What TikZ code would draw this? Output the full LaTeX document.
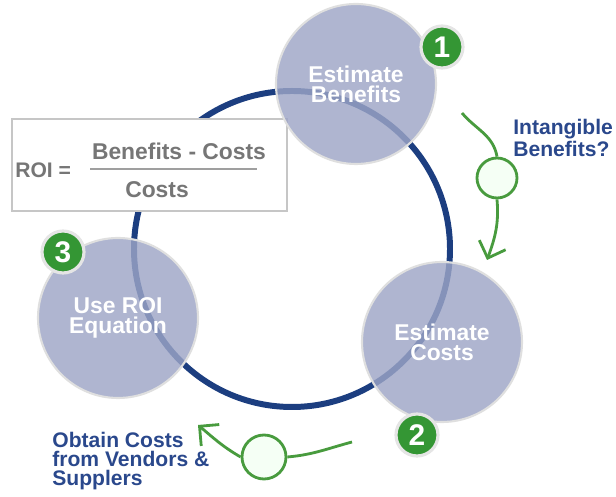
\documentclass[tikz,border=0pt]{standalone}
\usepackage{fontspec}
\setmainfont{Liberation Sans}
\usetikzlibrary{arrows.meta}
\definecolor{stepcolor}{RGB}{157,165,198}
\definecolor{ringcolor}{RGB}{28,62,128}
\definecolor{badgecolor}{RGB}{52,150,52}
\definecolor{notecolor}{RGB}{42,72,140}
\definecolor{pathcolor}{RGB}{72,155,62}
\definecolor{formulacolor}{RGB}{118,118,118}

\begin{document}
\begin{tikzpicture}[
    stepcircle/.style={circle, fill=stepcolor, fill opacity=0.82, text opacity=1, draw=gray!25, line width=1.2pt, minimum size=3.2cm, inner sep=0pt, text=white, font=\fontsize{13}{11.5}\selectfont\bfseries, align=center},
    badge/.style={circle, fill=badgecolor, draw=gray!20, line width=1.8pt, minimum size=0.84cm, inner sep=0pt, text=white, font=\fontsize{17}{17}\selectfont\bfseries},
    note/.style={text=notecolor, font=\fontsize{12}{10.8}\selectfont\bfseries, align=left, inner sep=0pt},
    loop/.style={circle, draw=pathcolor, line width=1.6pt, fill=green!4!white, minimum size=0.8cm, inner sep=0pt},
    hint/.style={draw=pathcolor, line width=1.6pt},
    formula/.style={text=formulacolor, font=\fontsize{13}{13}\selectfont\bfseries, inner sep=0pt}
]
    \useasboundingbox (0,0) rectangle (12.32,9.94);

    % Cycle ring
    \draw[ringcolor, line width=3.4pt] (5.84,4.96) circle (3.16);

    % ROI formula
    \node[draw=gray!45, line width=1pt, fill=white, minimum width=5.5cm, minimum height=1.84cm, inner sep=0pt] (roibox) at (2.99,6.64) {};
    \node[formula, font=\fontsize{12}{12}\selectfont\bfseries, anchor=west] (roi) at (0.30,6.54) {ROI =};
    \node[formula] (gain) at (3.58,6.92) {Benefits - Costs};
    \draw[formulacolor!70, line width=0.6pt] (1.80,6.56) -- (5.14,6.56);
    \node[formula] (cost) at (3.14,6.14) {Costs};

    % Steps
    \node[stepcircle] (benefits) at (7.12,8.26) {Estimate\\Benefits};
    \node[stepcircle] (costs) at (8.84,3.10) {Estimate\\Costs};
    \node[stepcircle] (equation) at (2.36,3.58) {Use ROI\\Equation};

    % Step numbers
    \node[badge] (badgeOne) at (8.84,9.00) {1};
    \node[badge] (badgeTwo) at (8.34,1.24) {2};
    \node[badge] (badgeThree) at (1.26,4.90) {3};

    % Intangible benefits
    \coordinate (intStart) at (9.24,7.68);
    \node[loop] (intLoop) at (9.94,6.38) {};
    \coordinate (intTip) at (9.74,4.74);
    \draw[hint] (intStart) to[out=-50, in=100] (intLoop.north);
    \draw[hint, -{Straight Barb[length=2.8mm, width=5.6mm]}] (intLoop.south) to[out=-85, in=70] (intTip);
    \node[note, anchor=north west] (intNote) at (10.26,7.56) {Intangible\\Benefits?};

    % Vendor costs
    \coordinate (obtStart) at (7.04,1.10);
    \node[loop, minimum size=0.88cm] (obtLoop) at (5.28,0.80) {};
    \coordinate (obtTip) at (3.96,1.44);
    \draw[hint] (obtStart) to[out=195, in=5] (obtLoop.east);
    \draw[hint, -{Straight Barb[length=2.8mm, width=5.6mm]}] (obtLoop.west) to[out=150, in=-40] (obtTip);
    \node[note, anchor=north west] (obtNote) at (1.04,1.30) {Obtain Costs\\from Vendors \&\\Supplers};

\end{tikzpicture}
\end{document}
